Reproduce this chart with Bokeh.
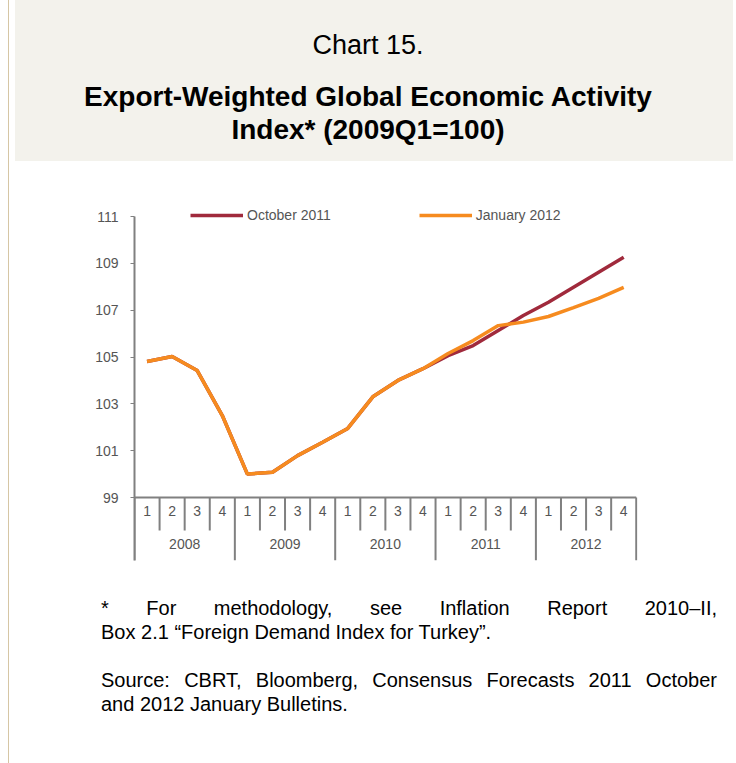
from bokeh.plotting import figure
from bokeh.models import Div, Legend, LegendItem, FixedTicker, Range1d, ColumnDataSource
from bokeh.layouts import column, row
from bokeh.embed import file_html
from bokeh.resources import INLINE
from bokeh.core.properties import value

# ---------------- data ----------------
years = ["2008", "2009", "2010", "2011", "2012"]
quarters = ["1", "2", "3", "4"]
series_names = ["October 2011", "January 2012"]
oct2011 = [104.81, 105.02, 104.42, 102.50, 100.00, 100.08, 100.79, 101.36,
           101.95, 103.30, 104.00, 104.50, 105.06, 105.49, 106.13, 106.77,
           107.34, 107.98, 108.62, 109.26]
jan2012 = [104.81, 105.02, 104.42, 102.50, 100.00, 100.08, 100.79, 101.36,
           101.95, 103.30, 104.00, 104.50, 105.15, 105.70, 106.34, 106.49,
           106.73, 107.11, 107.50, 107.97]
y_ticks = [99, 101, 103, 105, 107, 109, 111]

title_top = "Chart 15."
title_main = ["Export-Weighted Global Economic Activity", "Index* (2009Q1=100)"]
foot1 = ["* For methodology, see Inflation Report 2010\u2013II,",
         "Box 2.1 \u201cForeign Demand Index for Turkey\u201d."]
foot2 = ["Source: CBRT, Bloomberg, Consensus Forecasts 2011 October",
         "and 2012 January Bulletins."]

# ---------------- styling ----------------
FONT = "Liberation Sans"
MAROON = "#a02a3c"
ORANGE = "#f68b1f"
AXIS = "#808080"
TXT = "#555555"
BEIGE = "#f3f2ec"
TAN = "#d6c6a4"

n = len(years) * len(quarters)
xs = list(range(n))
ppu = 281.0 / (y_ticks[-1] - y_ticks[0])   # pixels per unit
y_bottom = y_ticks[0] - 63.0 / ppu
y_top = y_ticks[-1] + 16.0 / ppu

# ---------------- left rule ----------------
strip = Div(
    text=(f'<div style="position:relative;width:15px;height:763px;">'
          f'<div style="position:absolute;left:8px;top:0;width:1px;height:763px;background:{TAN};"></div></div>'),
    width=15, height=763, margin=0)

# ---------------- header ----------------
header = Div(
    text=(f'<div style="width:718px;height:161px;background:{BEIGE};position:relative;'
          f'font-family:\'{FONT}\',Arial,sans-serif;color:#000;text-align:center;">'
          f'<div style="position:absolute;left:0;width:706px;top:30px;font-size:27px;line-height:31px;">{title_top}</div>'
          f'<div style="position:absolute;left:0;width:706px;top:80px;font-size:28px;font-weight:bold;line-height:33px;">'
          f'{title_main[0]}<br>{title_main[1]}</div></div>'),
    width=718, height=161, margin=0)

# ---------------- chart ----------------
p = figure(width=721, height=429, output_backend="svg", toolbar_location=None,
           x_range=Range1d(-0.5, n - 0.45), y_range=Range1d(y_bottom, y_top),
           x_axis_type=None, min_border_left=119, min_border_right=99,
           min_border_top=39, min_border_bottom=30)
p.grid.visible = False
p.outline_line_color = None
p.background_fill_color = "white"
p.border_fill_color = "white"

ya = p.yaxis[0]
ya.ticker = FixedTicker(ticks=y_ticks)
ya.bounds = (y_bottom, y_ticks[-1])
ya.axis_line_color = AXIS
ya.axis_line_width = 2
ya.major_tick_line_color = AXIS
ya.major_tick_out = 4
ya.major_tick_in = 0
ya.minor_tick_line_color = None
ya.major_label_text_font = FONT
ya.major_label_text_font_size = "14px"
ya.major_label_text_color = TXT
ya.major_label_standoff = 12

# category axis (quarters within years)
p.segment(x0=[-0.5], y0=[y_ticks[0]], x1=[n - 0.5], y1=[y_ticks[0]],
          line_color=AXIS, line_width=2)
q_sep = [i + 0.5 for i in range(n - 1) if (i + 1) % len(quarters) != 0]
p.segment(x0=q_sep, y0=[y_ticks[0]] * len(q_sep), x1=q_sep,
          y1=[y_ticks[0] - 33.0 / ppu] * len(q_sep), line_color=AXIS, line_width=2)
y_sep = [k * len(quarters) - 0.5 for k in range(len(years) + 1)]
p.segment(x0=y_sep, y0=[y_ticks[0]] * len(y_sep), x1=y_sep,
          y1=[y_bottom] * len(y_sep), line_color=AXIS, line_width=2)

q_src = ColumnDataSource(dict(x=xs, y=[y_ticks[0] - 13.0 / ppu] * n,
                              t=quarters * len(years)))
p.text(x="x", y="y", text="t", source=q_src, text_align="center",
       text_baseline="middle", text_font=value(FONT), text_font_size="14px",
       text_color=TXT)
yr_src = ColumnDataSource(dict(x=[k * len(quarters) + 1.5 for k in range(len(years))],
                               y=[y_ticks[0] - 46.0 / ppu] * len(years), t=years))
p.text(x="x", y="y", text="t", source=yr_src, text_align="center",
       text_baseline="middle", text_font=value(FONT), text_font_size="14px",
       text_color=TXT)

r1 = p.line(xs, oct2011, line_color=MAROON, line_width=3.5)
r2 = p.line(xs, jan2012, line_color=ORANGE, line_width=3.5)

legend = Legend(items=[LegendItem(label=series_names[0], renderers=[r1]),
                       LegendItem(label=series_names[1], renderers=[r2])],
                orientation="horizontal", location=(56, 335),
                glyph_width=53, glyph_height=20, label_standoff=4, spacing=88,
                padding=0, margin=0, border_line_color=None,
                background_fill_alpha=0, label_text_font=FONT,
                label_text_font_size="14px", label_text_color=TXT)
p.add_layout(legend, "center")

# ---------------- footer ----------------
def just(line):
    return f'<div style="text-align:justify;text-align-last:justify;height:24px;">{line}</div>'

def plain(line):
    return f'<div style="height:24px;white-space:nowrap;">{line}</div>'

footer = Div(
    text=(f'<div style="width:721px;height:173px;position:relative;'
          f'font-family:\'{FONT}\',Arial,sans-serif;color:#000;font-size:20px;line-height:24px;">'
          f'<div style="position:absolute;left:86px;width:616px;top:6px;">{just(foot1[0])}{plain(foot1[1])}</div>'
          f'<div style="position:absolute;left:86px;width:616px;top:78px;">{just(foot2[0])}{plain(foot2[1])}</div>'
          f'</div>'),
    width=721, height=173, margin=0)

layout = row(strip, column(header, p, footer, spacing=0), spacing=0)
open("out.html", "w").write(file_html(layout, INLINE))
